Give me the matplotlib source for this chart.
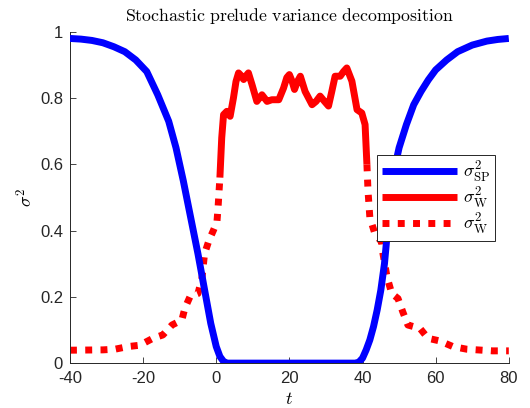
import numpy as np
import matplotlib
matplotlib.use('Agg')
import matplotlib.pyplot as plt

plt.rcParams['font.family'] = ['Liberation Sans', 'DejaVu Sans']
plt.rcParams['mathtext.fontset'] = 'cm'

# sigma^2_SP (blue)
t_sp = [-40, -37, -34, -31, -28, -25, -22, -19, -16, -13, -11, -9, -7, -5, -3, -1.5, 0, 1, 2, 3,
        10, 20, 30, 38, 39, 40, 41, 42, 43, 44, 45, 46, 47, 48, 49, 50, 52, 54, 56, 58,
        60, 63, 66, 70, 74, 77, 80]
v_sp = [0.98, 0.978, 0.974, 0.967, 0.955, 0.94, 0.915, 0.88, 0.81, 0.73, 0.65, 0.55, 0.44,
        0.33, 0.21, 0.12, 0.05, 0.02, 0.005, 0.0,
        0.0, 0.0, 0.0, 0.0, 0.003, 0.015, 0.04, 0.07, 0.11, 0.16, 0.22, 0.3, 0.42, 0.53, 0.6,
        0.65, 0.72, 0.78, 0.82, 0.855, 0.885, 0.915, 0.94, 0.96, 0.972, 0.977, 0.98]

# sigma^2_W inside (solid red)
t_w = [1.0, 1.5, 2.0, 2.9, 3.8, 4.7, 5.4, 6.1, 6.8, 7.5, 8.2, 8.8, 9.8, 11.1, 11.8, 12.5,
       13.2, 13.9, 15.2, 17.1, 18.4, 19.3, 20.0, 20.7, 21.4, 22.2, 23.0, 24.3, 26.2, 27.3,
       28.4, 29.6, 30.7, 31.6, 32.5, 33.9, 34.8, 35.7, 37.1, 38.5, 39.8, 40.7, 41.2]
v_w = [0.56, 0.68, 0.75, 0.76, 0.745, 0.80, 0.85, 0.876, 0.868, 0.856, 0.868, 0.876, 0.84,
       0.79, 0.80, 0.81, 0.80, 0.79, 0.795, 0.795, 0.83, 0.862, 0.871, 0.852, 0.826, 0.85,
       0.866, 0.82, 0.78, 0.79, 0.806, 0.79, 0.776, 0.82, 0.866, 0.866, 0.88, 0.891, 0.851,
       0.765, 0.755, 0.72, 0.6]

# sigma^2_W outside (dotted red), left and right parts
t_wl = [-40, -31, -27.7, -24.1, -20.9, -17.3, -14.6, -12.1, -9.4, -8.6, -7.2, -5, -3.9,
        -3.2, -2.0, -0.8, 0.2, 0.5, 1.0]
v_wl = [0.039, 0.04, 0.042, 0.05, 0.054, 0.075, 0.085, 0.115, 0.13, 0.165, 0.2, 0.21, 0.257,
        0.33, 0.37, 0.40, 0.427, 0.47, 0.56]
t_wr = [41.2, 41.5, 42.0, 43.4, 45.2, 45.6, 46.7, 48.0, 49.7, 51.0, 52.4, 55.7, 57.9,
        61.1, 64.7, 68.5, 75.6, 80]
v_wr = [0.6, 0.52, 0.44, 0.39, 0.366, 0.33, 0.26, 0.21, 0.195, 0.155, 0.115, 0.105, 0.075,
        0.067, 0.05, 0.042, 0.037, 0.037]

fig = plt.figure(figsize=(5.3, 4.08), dpi=100)
ax = fig.add_axes([0.132, 0.110, 0.828, 0.812])

lw = 5
ax.plot(t_sp, v_sp, color='#0000ff', lw=lw, label=r'$\sigma^2_{\mathrm{SP}}$',
        solid_capstyle='butt', solid_joinstyle='round', zorder=3)
ax.plot(t_w, v_w, color='#ff0000', lw=lw, label=r'$\sigma^2_{\mathrm{W}}$',
        solid_capstyle='butt', solid_joinstyle='round', zorder=2)
ax.plot(t_wl, v_wl, color='#ff0000', lw=lw, dashes=(1.0, 1.2),
        dash_capstyle='butt', label=r'$\sigma^2_{\mathrm{W}}$', zorder=2)
ax.plot(t_wr, v_wr, color='#ff0000', lw=lw, dashes=(1.0, 1.2),
        dash_capstyle='butt', zorder=2)

ax.set_xlim(-40, 80)
ax.set_ylim(0, 1)
ax.set_xticks([-40, -20, 0, 20, 40, 60, 80])
ax.set_yticks([0, 0.2, 0.4, 0.6, 0.8, 1])
ax.set_xticklabels(['-40', '-20', '0', '20', '40', '60', '80'])
ax.set_yticklabels(['0', '0.2', '0.4', '0.6', '0.8', '1'])
ax.tick_params(direction='in', length=4, width=0.6, labelsize=12, colors='#262626')
ax.tick_params(axis='x', pad=6)
ax.tick_params(axis='y', pad=5)
for s in ['top', 'right']:
    ax.spines[s].set_visible(False)
for s in ['left', 'bottom']:
    ax.spines[s].set_linewidth(0.7)
    ax.spines[s].set_color('#262626')

ax.set_xlabel(r'$t$', fontsize=13, labelpad=3)
ax.set_ylabel(r'$\sigma^2$', fontsize=13, labelpad=3)
ax.set_title(r'$\mathrm{Stochastic\ prelude\ variance\ decomposition}$', fontsize=12.8, pad=8)

leg = ax.legend(loc='upper left', bbox_to_anchor=(0.70, 0.628), fontsize=13,
                handlelength=4.2, handletextpad=0.3, borderpad=0.25, labelspacing=0.05,
                fancybox=False, framealpha=1, edgecolor='#262626', borderaxespad=0)
leg.get_frame().set_linewidth(0.7)

fig.savefig('out.png', dpi=100)
